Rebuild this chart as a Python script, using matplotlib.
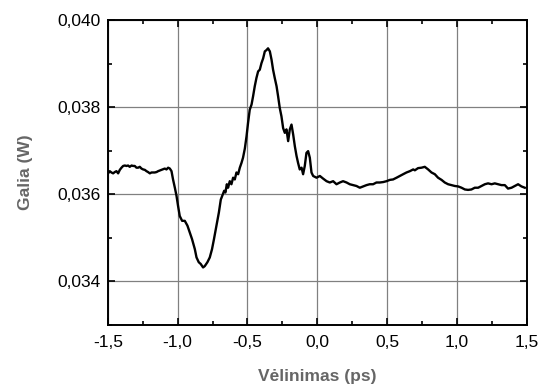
import matplotlib.pyplot as plt
from matplotlib.ticker import MultipleLocator, FuncFormatter

plt.rcParams['font.family'] = ['Liberation Sans', 'DejaVu Sans']

# delay (ps) and measured power (W)
delay = [
    -1.493, -1.486, -1.474, -1.462, -1.450, -1.438, -1.426, -1.414, -1.402, -1.390,
    -1.378, -1.366, -1.355, -1.343, -1.330, -1.319, -1.307, -1.295, -1.283, -1.271,
    -1.259, -1.247, -1.235, -1.223, -1.212, -1.199, -1.187, -1.164, -1.151, -1.140,
    -1.116, -1.092, -1.080, -1.068, -1.056, -1.044, -1.033, -1.020,
    -1.008, -0.997, -0.985, -0.968, -0.949, -0.930, -0.913, -0.897, -0.877, -0.865,
    -0.849, -0.835, -0.818, -0.806, -0.787, -0.770, -0.754, -0.740, -0.722, -0.705,
    -0.691,
    -0.686, -0.667, -0.658, -0.648, -0.639, -0.627, -0.615, -0.603, -0.591, -0.579,
    -0.567, -0.555, -0.543, -0.532, -0.519, -0.507, -0.496, -0.484,
    -0.471, -0.460, -0.448, -0.436, -0.424, -0.412, -0.400, -0.388, -0.376, -0.364,
    -0.353, -0.340, -0.328, -0.317, -0.305, -0.292, -0.281, -0.269, -0.257, -0.245,
    -0.233, -0.221, -0.209, -0.197, -0.185, -0.173, -0.161, -0.149, -0.138, -0.126,
    -0.113, -0.102, -0.090, -0.078, -0.066, -0.054, -0.042,
    -0.030, -0.006, 0.018, 0.041, 0.066, 0.089, 0.113, 0.137, 0.161, 0.184,
    0.209, 0.232, 0.256, 0.280, 0.304, 0.328, 0.352, 0.375, 0.399, 0.423,
    0.447, 0.471, 0.495, 0.519, 0.542, 0.567, 0.590, 0.614, 0.638, 0.662,
    0.686,
    0.698, 0.721, 0.746, 0.769, 0.793, 0.817, 0.841, 0.864, 0.889, 0.912,
    0.936, 0.960, 0.984, 1.008, 1.032, 1.056, 1.079, 1.103, 1.127, 1.151,
    1.175, 1.199, 1.222, 1.247, 1.270, 1.294, 1.318, 1.342, 1.365, 1.390,
    1.413, 1.437, 1.461, 1.485,
]
power = [
    0.03650, 0.03653, 0.03650, 0.03648, 0.03651, 0.03653, 0.03648, 0.03656, 0.03661, 0.03665,
    0.03666, 0.03665, 0.03666, 0.03663, 0.03666, 0.03665, 0.03665, 0.03661, 0.03661, 0.03663,
    0.03659, 0.03657, 0.03656, 0.03653, 0.03651, 0.03648, 0.03650, 0.03650, 0.03651, 0.03653,
    0.03656, 0.03659, 0.03657, 0.03661, 0.03659, 0.03653, 0.03634, 0.03615,
    0.03596, 0.03573, 0.03550, 0.03539, 0.03539, 0.03528, 0.03512, 0.03497, 0.03474, 0.03455,
    0.03444, 0.03440, 0.03432, 0.03435, 0.03444, 0.03455, 0.03474, 0.03497, 0.03528, 0.03558,
    0.03588,
    0.03592, 0.03608, 0.03604, 0.03623, 0.03615, 0.03630, 0.03623, 0.03638, 0.03634, 0.03650,
    0.03646, 0.03661, 0.03672, 0.03684, 0.03705, 0.03733, 0.03764, 0.03794,
    0.03806, 0.03825, 0.03848, 0.03867, 0.03882, 0.03886, 0.03901, 0.03912, 0.03928, 0.03931,
    0.03935, 0.03928, 0.03909, 0.03886, 0.03867, 0.03848, 0.03825, 0.03798, 0.03779, 0.03752,
    0.03741, 0.03749, 0.03722, 0.03749, 0.03760, 0.03737, 0.03710, 0.03688, 0.03672, 0.03657,
    0.03661, 0.03646, 0.03665, 0.03695, 0.03699, 0.03684, 0.03650,
    0.03642, 0.03638, 0.03642, 0.03636, 0.03630, 0.03627, 0.03630, 0.03623, 0.03627, 0.03630,
    0.03627, 0.03623, 0.03621, 0.03619, 0.03615, 0.03618, 0.03621, 0.03623, 0.03623, 0.03627,
    0.03627, 0.03628, 0.03630, 0.03633, 0.03634, 0.03638, 0.03642, 0.03646, 0.03650, 0.03653,
    0.03657,
    0.03655, 0.03660, 0.03661, 0.03663, 0.03657, 0.03650, 0.03646, 0.03638, 0.03633, 0.03627,
    0.03623, 0.03621, 0.03619, 0.03618, 0.03615, 0.03611, 0.03610, 0.03611, 0.03615, 0.03615,
    0.03619, 0.03623, 0.03625, 0.03623, 0.03625, 0.03623, 0.03621, 0.03621, 0.03613, 0.03615,
    0.03619, 0.03623, 0.03618, 0.03615,
]

fig = plt.figure(figsize=(5.5, 3.85), dpi=100)
ax = fig.add_axes([0.196, 0.156, 0.762, 0.792])

ax.plot(delay, power, color='black', lw=1.7, zorder=3)

ax.set_xlim(-1.5, 1.5)
ax.set_ylim(0.033, 0.040)
ax.xaxis.set_major_locator(MultipleLocator(0.5))
ax.xaxis.set_minor_locator(MultipleLocator(0.25))
ax.yaxis.set_major_locator(MultipleLocator(0.002))
ax.yaxis.set_minor_locator(MultipleLocator(0.001))
ax.xaxis.set_major_formatter(FuncFormatter(lambda v, p: f'{v:.1f}'.replace('.', ',')))
ax.yaxis.set_major_formatter(FuncFormatter(lambda v, p: f'{v:.3f}'.replace('.', ',')))

ax.grid(True, which='major', color='#808080', lw=0.9, zorder=1)
ax.tick_params(which='both', direction='in', top=True, right=True, width=1.2, labelsize=12.5)
ax.tick_params(which='major', length=5)
ax.tick_params(which='minor', length=3)
ax.tick_params(axis='x', which='major', pad=7)
ax.tick_params(axis='y', which='major', pad=5)
for s in ax.spines.values():
    s.set_linewidth(1.4)

ax.set_xlabel('Vėlinimas (ps)', fontsize=12.5, fontweight='bold', color='#666666', labelpad=14)
ax.set_ylabel('Galia (W)', fontsize=12.5, fontweight='bold', color='#666666', labelpad=18)

fig.savefig('out.png', dpi=100)
